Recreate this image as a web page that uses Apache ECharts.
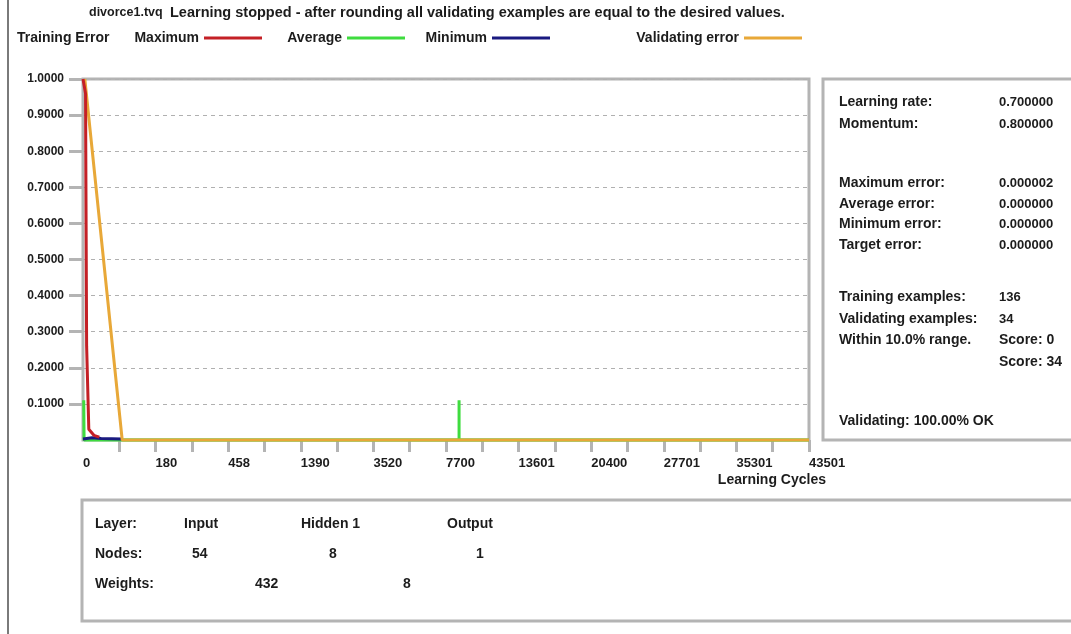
<!DOCTYPE html>
<html><head><meta charset="utf-8">
<script src="https://cdn.jsdelivr.net/npm/echarts@6/dist/echarts.min.js"></script>
<style>html,body{margin:0;padding:0;background:#fff}#c{width:1071px;height:634px}</style>
</head><body><div id="c"></div>
<script>
// Non-linear cycle axis: tick labels at every other tick position (index units 0..20)
const cycleLabels = ['0','180','458','1390','3520','7700','13601','20400','27701','35301','43501'];
// Series values as [tick-index position, error]
const maxError = [[0,1.0],[0.07,0.96],[0.1,0.26],[0.14,0.26],[0.16,0.03],[0.3,0.013],[0.45,0.008]];
const avgError = [[0.02,0.11],[0.03,0.0],[10.36,0.0],[10.36,0.11],[10.36,0.0],[20,0.0]];
const minError = [[0,0.003],[0.25,0.006],[0.5,0.004],[1.08,0.003]];
const valError = [[0.05,1.0],[1.08,0.0],[20,0.0]];
const xTickValues = [1,2,3,4,5,6,7,8,9,10,11,12,13,14,15,16,17,18,19,20];
const xLabelValues = [0,2,4,6,8,10,12,14,16,18,20];
const yTickValues = [0.1,0.2,0.3,0.4,0.5,0.6,0.7,0.8,0.9,1.0];

const fileName = 'divorce1.tvq';
const statusText = 'Learning stopped - after rounding all validating examples are equal to the desired values.';
const infoLabels = ['Learning rate:','Momentum:','Maximum error:','Average error:','Minimum error:','Target error:','Training examples:','Validating examples:','Within 10.0% range.','','Validating: 100.00% OK'];
const infoValues = ['0.700000','0.800000','0.000002','0.000000','0.000000','0.000000','136','34','Score: 0','Score: 34',''];
const layerRowNames = ['Layer:','Nodes:','Weights:'];
const layerNames = ['Input','Hidden 1','Output'];
const nodeCounts = ['54','8','1'];
const weightCounts = ['432','8'];

const FONT = '"Liberation Sans", Arial, sans-serif';
const TXT = '#1c1c1c';
const infoRowY = [102,124,183,204,224,245,297,319,340,362,421];
const layerNameX = [184,301,447];
const nodeX = [192,329,476];
const weightX = [255,403];
const rowY = [524,554,584];

function txt(x, y, t, size, extra) {
  return {type:'text', x:x, y:y, style:Object.assign({text:t, font:'bold '+size+'px '+FONT, fill:TXT, verticalAlign:'middle'}, extra||{})};
}
const graphics = [
  {type:'line', shape:{x1:8,y1:0,x2:8,y2:634}, style:{stroke:'#7a7a7a', lineWidth:2}},
  {type:'rect', shape:{x:823,y:79,width:300,height:361}, style:{fill:'#fff', stroke:'#b4b4b4', lineWidth:3}},
  {type:'rect', shape:{x:82,y:500,width:1050,height:121}, style:{fill:'#fff', stroke:'#b4b4b4', lineWidth:3}},
  txt(89, 13, fileName, 12.5),
  txt(170, 13, statusText, 14.5),
  txt(17, 38, 'Training Error', 14),
  txt(826, 480, 'Learning Cycles', 14, {align:'right'})
];
infoLabels.forEach((t,i)=>{ if(t) graphics.push(txt(839, infoRowY[i], t, 14)); });
infoValues.forEach((t,i)=>{ if(t) graphics.push(txt(999, infoRowY[i], t, /\d$/.test(t) && !/Score/.test(t) ? 13 : 14)); });
layerRowNames.forEach((t,i)=>graphics.push(txt(95, rowY[i], t, 14)));
layerNames.forEach((t,i)=>graphics.push(txt(layerNameX[i], rowY[0], t, 14)));
nodeCounts.forEach((t,i)=>graphics.push(txt(nodeX[i], rowY[1], t, 14)));
weightCounts.forEach((t,i)=>graphics.push(txt(weightX[i], rowY[2], t, 14)));

const chart = echarts.init(document.getElementById('c'), null, {renderer:'canvas'});
const lbl = {fontFamily:FONT, fontWeight:'bold', fontSize:14, color:TXT};
function leg(name, lineEnd) {
  return {data:[name], right:1071-lineEnd-5, top:26, align:'right', itemWidth:58, itemHeight:3, icon:'rect', textStyle:lbl};
}
chart.setOption({
  animation:false,
  backgroundColor:'#fff',
  legend:[leg('Maximum',262), leg('Average',405), leg('Minimum',550), leg('Validating error',802)],
  grid:{left:83, right:262, top:79, bottom:194, show:true, borderColor:'#b4b4b4', borderWidth:3, backgroundColor:'#fff'},
  xAxis:{type:'value', min:0, max:20, interval:1,
    axisLine:{show:false},
    axisTick:{show:true, length:12, lineStyle:{color:'#b4b4b4', width:3}, customValues:xTickValues},
    axisLabel:{customValues:xLabelValues, align:'left', margin:17, formatter:v=>cycleLabels[Math.round(v/2)], fontFamily:FONT, fontWeight:'bold', fontSize:13, color:TXT},
    splitLine:{show:false}},
  yAxis:{type:'value', min:0, max:1, interval:0.1,
    axisLine:{show:false},
    axisTick:{show:true, length:14, lineStyle:{color:'#b4b4b4', width:3}, customValues:yTickValues},
    axisLabel:{margin:19, formatter:v=>v===0?'':v.toFixed(4), fontFamily:FONT, fontWeight:'bold', fontSize:12, color:TXT},
    splitLine:{show:true, lineStyle:{type:[4,4], color:'#b0b0b0', width:1}}},
  series:[
    {name:'Average', type:'line', data:avgError, showSymbol:false, clip:false, color:'#3fdc3f', lineStyle:{width:3, color:'#3fdc3f'}, z:2},
    {name:'Minimum', type:'line', data:minError, showSymbol:false, clip:false, color:'#1a1a80', lineStyle:{width:3, color:'#1a1a80'}, z:3},
    {name:'Validating error', type:'line', data:valError, showSymbol:false, clip:false, color:'#e8a838', lineStyle:{width:3, color:'#e8a838'}, z:4},
    {name:'Maximum', type:'line', data:maxError, showSymbol:false, clip:false, color:'#c42026', lineStyle:{width:3, color:'#c42026'}, z:5}
  ],
  graphic:graphics
});
</script></body></html>
